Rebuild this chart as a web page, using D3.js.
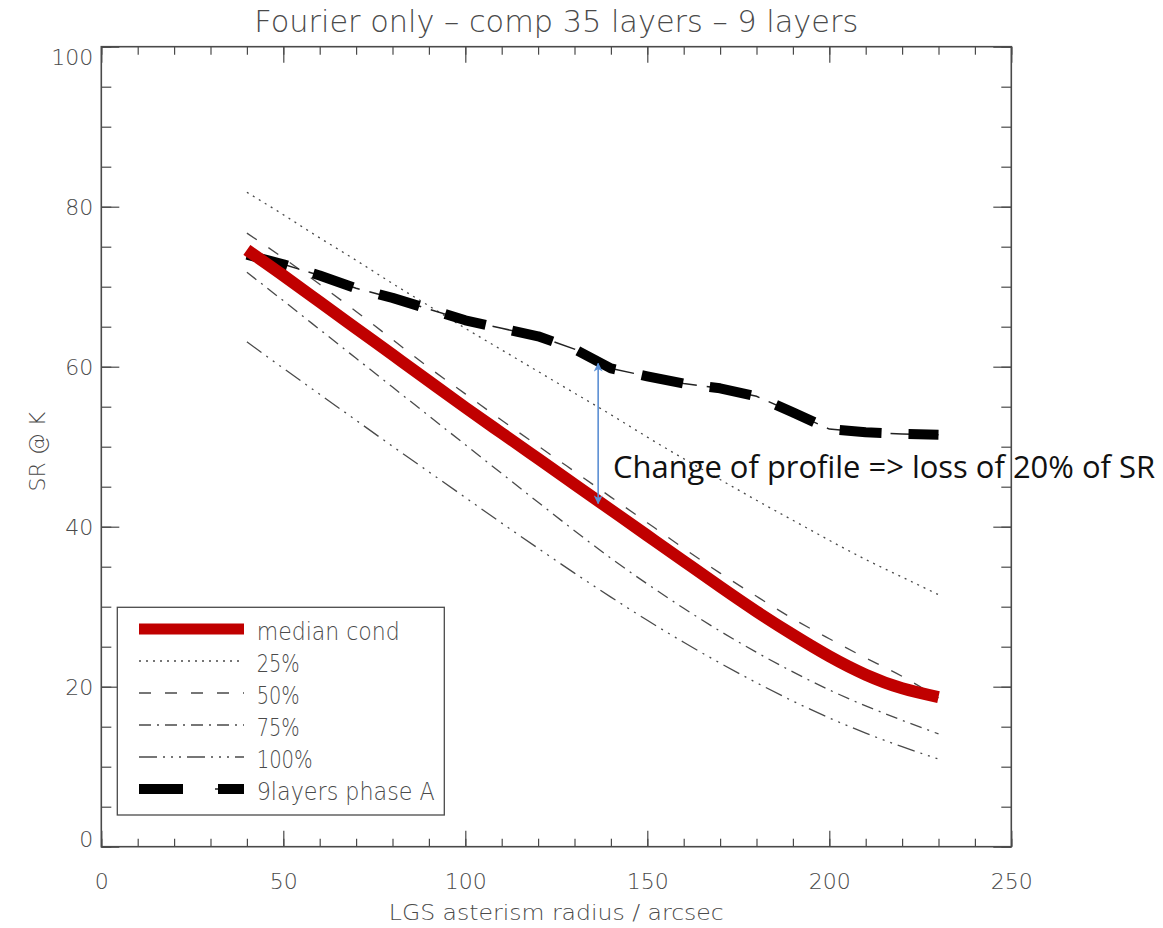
<!DOCTYPE html>
<html>
<head>
<meta charset="utf-8">
<script src="https://cdn.jsdelivr.net/npm/d3@7"></script>
<style>
  body { margin: 0; background: #fff; }
  svg text { font-family: "DejaVu Sans", sans-serif; font-weight: 200; fill: #4a4a4a; }
</style>
</head>
<body>
<svg id="chart" width="1163" height="928"></svg>
<script>
// LGS asterism radius (arcsec) at which each profile was evaluated
const radius = [40, 50, 60, 70, 80, 90, 100, 110, 120, 130, 140, 150, 160, 170, 180, 190, 200, 210, 220, 230];

// Strehl ratio @ K (%) for each turbulence profile
const medianCond = [74.6, 71.4, 68.1, 64.8, 61.5, 58.2, 54.9, 51.7, 48.5, 45.3, 42.1, 38.9, 35.7, 32.5, 29.4, 26.5, 23.8, 21.5, 19.8, 18.7];
const p25 = [81.8, 79.0, 76.1, 73.3, 70.4, 67.6, 64.8, 62.1, 59.4, 56.7, 54.0, 51.2, 48.5, 45.9, 43.3, 40.8, 38.3, 35.9, 33.7, 31.5];
const p50 = [76.7, 73.6, 70.3, 66.9, 63.4, 59.9, 56.6, 53.3, 50.1, 46.9, 43.7, 40.5, 37.3, 34.2, 31.3, 28.5, 26.0, 23.6, 21.3, 18.6];
const p75 = [71.8, 68.25, 64.65, 61.05, 57.45, 53.85, 50.25, 46.65, 43.05, 39.5, 36.05, 32.85, 29.8, 26.95, 24.3, 21.85, 19.6, 17.6, 15.8, 14.1];
const p100 = [63.1, 59.8, 56.55, 53.3, 50.05, 46.85, 43.65, 40.45, 37.3, 34.2, 31.2, 28.3, 25.55, 22.95, 20.5, 18.2, 16.1, 14.2, 12.5, 10.95];
const nineLayersA = [74.0, 72.8, 71.4, 69.8, 68.6, 67.2, 65.8, 64.8, 63.8, 62.2, 59.8, 58.8, 57.9, 57.3, 56.3, 54.3, 52.2, 51.8, 51.6, 51.5];

// Axis ticks
const xMajorTicks = [0, 50, 100, 150, 200, 250];
const yMajorTicks = [0, 20, 40, 60, 80, 100];

// Annotation: SR difference between the two profiles
const gapX = 136.5;
const gapValues = [60.4, 42.9];
const gapLabel = "Change of profile => loss of 20% of SR";

const titleText = "Fourier only \u2013 comp 35 layers \u2013 9 layers";
const xTitle = "LGS asterism radius / arcsec";
const yTitle = "SR @ K";

const legendLabels = ["median cond", "25%", "50%", "75%", "100%", "9layers phase A"];

// ---------------------------------------------------------------
const W = 1163, H = 928;
const m = { left: 101.3, right: 151.7, top: 46.7, bottom: 81.3 };
const svg = d3.select("#chart");
const ink = "#4a4a4a";

const x = d3.scaleLinear().domain([0, 250]).range([m.left, W - m.right]);
const y = d3.scaleLinear().domain([0, 100]).range([H - m.bottom, m.top]);

// Line styles, shared by plot and legend
const styles = [
  { data: p25, stroke: ink, width: 1.3, dash: "2,5", curve: d3.curveNatural },
  { data: p50, stroke: ink, width: 1.3, dash: "12,14", curve: d3.curveNatural },
  { data: p75, stroke: ink, width: 1.3, dash: "12,6,2,6", curve: d3.curveNatural },
  { data: p100, stroke: ink, width: 1.3, dash: "18,6,2,6,2,6,2,6", curve: d3.curveNatural },
];
const thinNine = { stroke: "#222", width: 1.5, dash: "22,10" };
const thickNine = { stroke: "#000", width: 10, dash: "42,27" };
const redStyle = { stroke: "#c00000", width: 12 };

const line = (curve) => d3.line().x((d, i) => x(radius[i])).y(d => y(d)).curve(curve);

// Axes with inward ticks (minor every 10 / 5, major every 50 / 20)
function drawAxis(gen, transform, minorVals, majorVals, minorLen, majorLen, labels) {
  const gMinor = svg.append("g").attr("transform", transform)
    .call(gen.tickValues(minorVals).tickSize(-minorLen).tickSizeOuter(0).tickFormat(""));
  gMinor.select(".domain").remove();
  gMinor.selectAll("line").attr("stroke", ink).attr("stroke-width", 1.2);
  const gMajor = svg.append("g").attr("transform", transform)
    .call(gen.tickValues(majorVals).tickSize(-majorLen).tickSizeOuter(0)
      .tickFormat(labels ? d3.format("d") : ""));
  gMajor.select(".domain").remove();
  gMajor.selectAll("line").attr("stroke", ink).attr("stroke-width", 1.2);
  gMajor.attr("font-family", null).attr("font-size", null);
  return gMajor;
}

const xMinor = d3.range(0, 251, 10);
const yMinor = d3.range(0, 101, 5);

const gx = drawAxis(d3.axisBottom(x), `translate(0,${H - m.bottom})`, xMinor, xMajorTicks, 8, 16, true);
gx.selectAll("text").attr("y", 42).attr("dy", null).style("font-size", "22px").attr("fill", ink);
drawAxis(d3.axisTop(x), `translate(0,${m.top})`, xMinor, xMajorTicks, 8, 16, false);

const gy = drawAxis(d3.axisLeft(y), `translate(${m.left},0)`, yMinor, yMajorTicks, 10, 18, true);
gy.selectAll("text").attr("x", -8).attr("dy", "0.36em").style("font-size", "22px").attr("fill", ink)
  .attr("y", d => d === 0 ? -8 : d === 100 ? 10 : 0);
drawAxis(d3.axisRight(y), `translate(${W - m.right},0)`, yMinor, yMajorTicks, 10, 18, false);

// Plot frame
svg.append("rect")
  .attr("x", m.left).attr("y", m.top)
  .attr("width", W - m.left - m.right).attr("height", H - m.top - m.bottom)
  .attr("fill", "none").attr("stroke", ink).attr("stroke-width", 1.6);

// Titles
svg.append("text").attr("x", (m.left + W - m.right) / 2).attr("y", 32)
  .attr("text-anchor", "middle").style("font-size", "30px")
  .attr("textLength", 604).attr("lengthAdjust", "spacingAndGlyphs").text(titleText);
svg.append("text").attr("x", (m.left + W - m.right) / 2).attr("y", 920)
  .attr("text-anchor", "middle").style("font-size", "22px")
  .attr("textLength", 335).attr("lengthAdjust", "spacingAndGlyphs").text(xTitle);
svg.append("text").attr("transform", `translate(45,${(m.top + H - m.bottom) / 2 + 5}) rotate(-90)`)
  .attr("text-anchor", "middle").style("font-size", "22px").text(yTitle);

// Series
const plot = svg.append("g");
styles.forEach(s => {
  plot.append("path").attr("d", line(s.curve)(s.data))
    .attr("fill", "none").attr("stroke", s.stroke).attr("stroke-width", s.width)
    .attr("stroke-dasharray", s.dash);
});
plot.append("path").attr("d", line(d3.curveLinear)(nineLayersA))
  .attr("fill", "none").attr("stroke", thinNine.stroke).attr("stroke-width", thinNine.width)
  .attr("stroke-dasharray", thinNine.dash);
plot.append("path").attr("d", line(d3.curveLinear)(nineLayersA))
  .attr("fill", "none").attr("stroke", thickNine.stroke).attr("stroke-width", thickNine.width)
  .attr("stroke-dasharray", thickNine.dash).attr("stroke-linejoin", "round");
plot.append("path").attr("d", line(d3.curveNatural)(medianCond))
  .attr("fill", "none").attr("stroke", redStyle.stroke).attr("stroke-width", redStyle.width);

// Legend
const lg = svg.append("g");
lg.append("rect").attr("x", 117.3).attr("y", 607.3).attr("width", 327).attr("height", 207.7)
  .attr("fill", "#fff").attr("stroke", ink).attr("stroke-width", 1.3);
const rowY = i => 629 + i * 32;
const sx0 = 139, sx1 = 244;
const legendStyles = [redStyle, ...styles];
legendStyles.forEach((s, i) => {
  lg.append("line").attr("x1", sx0).attr("x2", sx1).attr("y1", rowY(i)).attr("y2", rowY(i))
    .attr("stroke", s.stroke).attr("stroke-width", i === 0 ? 11 : s.width)
    .attr("stroke-dasharray", s.dash || null);
});
lg.append("line").attr("x1", sx0).attr("x2", sx1).attr("y1", rowY(5)).attr("y2", rowY(5))
  .attr("stroke", thinNine.stroke).attr("stroke-width", thinNine.width).attr("stroke-dasharray", "44,32,22,10");
lg.append("line").attr("x1", sx0).attr("x2", sx1).attr("y1", rowY(5)).attr("y2", rowY(5))
  .attr("stroke", thickNine.stroke).attr("stroke-width", thickNine.width).attr("stroke-dasharray", "44,35");
const legendWidths = [143, 43, 43, 43, 56, 178];
legendLabels.forEach((t, i) => {
  lg.append("text").attr("x", 256.7).attr("y", rowY(i) + 11).style("font-size", "24px")
    .attr("textLength", legendWidths[i]).attr("lengthAdjust", "spacingAndGlyphs").text(t);
});

// Annotation arrow
const blue = "#5b8fd4";
const defs = svg.append("defs");
["start", "end"].forEach(k => {
  defs.append("marker").attr("id", "head-" + k)
    .attr("viewBox", "0 0 10 10").attr("refX", 9).attr("refY", 5)
    .attr("markerWidth", 9).attr("markerHeight", 9).attr("markerUnits", "userSpaceOnUse")
    .attr("orient", k === "start" ? "auto-start-reverse" : "auto")
    .append("path").attr("d", "M0,0 L10,5 L0,10 L3,5 Z").attr("fill", blue);
});
svg.append("line")
  .attr("x1", x(gapX)).attr("x2", x(gapX))
  .attr("y1", y(gapValues[0])).attr("y2", y(gapValues[1]))
  .attr("stroke", blue).attr("stroke-width", 1.6)
  .attr("marker-start", "url(#head-start)").attr("marker-end", "url(#head-end)");
svg.append("text").attr("x", 613).attr("y", 478)
  .style("font-family", "'Open Sans', 'Noto Sans', sans-serif").style("font-weight", 400)
  .style("font-size", "31px").style("fill", "#111")
  .attr("textLength", 542).attr("lengthAdjust", "spacingAndGlyphs").text(gapLabel);
</script>
</body>
</html>
